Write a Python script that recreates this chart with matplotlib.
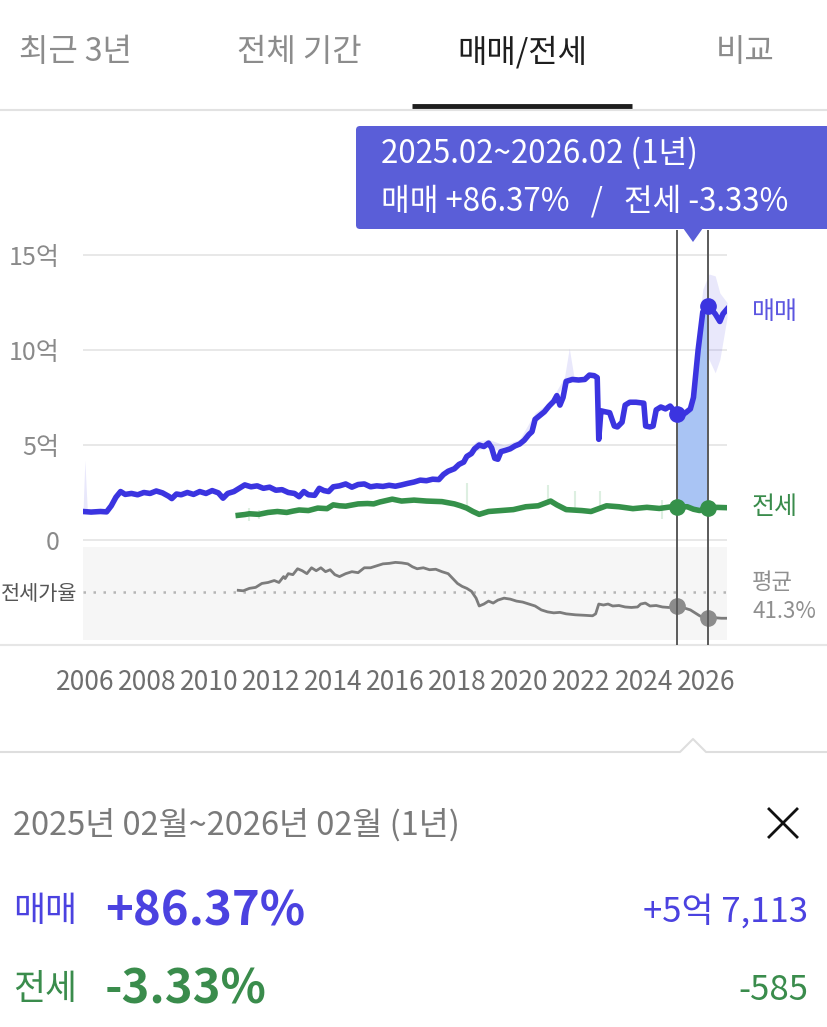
import numpy as np
import matplotlib.pyplot as plt
from matplotlib.patches import FancyBboxPatch, Polygon

plt.rcParams['font.family'] = ['Noto Sans CJK KR', 'DejaVu Sans']

# 매매 (억)
sale_x = [2005.94, 2006.2, 2006.5, 2006.7, 2006.85, 2007.0, 2007.15, 2007.3, 2007.5, 2007.7,
          2007.9, 2008.1, 2008.3, 2008.5, 2008.7, 2008.8, 2008.95, 2009.1, 2009.3, 2009.5,
          2009.7, 2009.9, 2010.1, 2010.3, 2010.45, 2010.6, 2010.8, 2011.0, 2011.15, 2011.35,
          2011.55, 2011.75, 2011.95, 2012.15, 2012.35, 2012.55, 2012.75, 2012.9, 2013.05, 2013.2,
          2013.4, 2013.55, 2013.7, 2013.85, 2014.0, 2014.2, 2014.4, 2014.6, 2014.8, 2015.0,
          2015.2, 2015.4, 2015.6, 2015.8, 2016.0, 2016.2, 2016.4, 2016.6, 2016.8, 2017.0,
          2017.2, 2017.4, 2017.55, 2017.7, 2017.9, 2018.05, 2018.2, 2018.3, 2018.45, 2018.55,
          2018.7, 2018.85, 2019.0, 2019.1, 2019.2, 2019.3, 2019.4, 2019.55, 2019.7, 2019.85,
          2020.0, 2020.15, 2020.3, 2020.4, 2020.5, 2020.65, 2020.8, 2020.95, 2021.1, 2021.2,
          2021.3, 2021.4, 2021.5, 2021.7, 2021.9, 2022.1, 2022.25, 2022.4, 2022.5, 2022.55,
          2022.62, 2022.75, 2022.9, 2023.05, 2023.15, 2023.3, 2023.4, 2023.55, 2023.75, 2024.0,
          2024.06, 2024.2, 2024.3, 2024.4, 2024.55, 2024.7, 2024.85, 2025.0, 2025.08, 2025.2,
          2025.35, 2025.5, 2025.6, 2025.75, 2025.9, 2026.08, 2026.2, 2026.3, 2026.45, 2026.55,
          2026.68]
sale_v = [1.50, 1.47, 1.50, 1.48, 1.80, 2.25, 2.55, 2.40, 2.45, 2.38,
          2.50, 2.45, 2.58, 2.48, 2.30, 2.18, 2.42, 2.38, 2.50, 2.40,
          2.55, 2.45, 2.60, 2.48, 2.20, 2.45, 2.55, 2.75, 2.90, 2.80,
          2.85, 2.72, 2.78, 2.62, 2.65, 2.50, 2.45, 2.28, 2.55, 2.38,
          2.35, 2.72, 2.60, 2.55, 2.80, 2.85, 2.95, 2.78, 2.92, 2.95,
          2.80, 2.85, 2.82, 2.88, 2.83, 2.90, 2.98, 3.05, 3.15, 3.12,
          3.20, 3.18, 3.45, 3.62, 3.75, 3.98, 4.10, 4.40, 4.55, 4.80,
          5.00, 4.92, 5.10, 4.85, 4.30, 4.25, 4.65, 4.72, 4.80, 4.95,
          5.05, 5.25, 5.55, 5.70, 6.35, 6.55, 6.75, 7.05, 7.30, 7.60,
          7.10, 7.50, 8.35, 8.45, 8.42, 8.45, 8.68, 8.65, 8.55, 5.30,
          6.80, 6.75, 6.70, 6.00, 5.95, 6.20, 7.10, 7.25, 7.25, 7.20,
          6.00, 5.95, 6.00, 6.85, 7.00, 6.90, 7.05, 6.75, 6.62, 6.55,
          6.70, 6.90, 7.50, 10.0, 12.0, 12.33, 12.1, 11.9, 11.5, 11.9,
          12.15]

# 전세 (억)
rent_x = [2010.94, 2011.15, 2011.3, 2011.6, 2011.9, 2012.2, 2012.5, 2012.7, 2012.9, 2013.2,
          2013.5, 2013.8, 2014.0, 2014.2, 2014.4, 2014.8, 2015.1, 2015.3, 2015.5, 2015.9,
          2016.2, 2016.6, 2017.0, 2017.5, 2017.9, 2018.1, 2018.3, 2018.5, 2018.7, 2019.0,
          2019.4, 2019.8, 2020.2, 2020.6, 2021.0, 2021.2, 2021.5, 2022.0, 2022.3, 2022.8,
          2023.2, 2023.65, 2024.1, 2024.5, 2024.9, 2025.08, 2025.4, 2025.6, 2025.8, 2026.08,
          2026.3, 2026.68]
rent_v = [1.30, 1.34, 1.38, 1.35, 1.45, 1.50, 1.45, 1.52, 1.58, 1.55,
          1.68, 1.65, 1.85, 1.80, 1.78, 1.90, 1.92, 1.90, 2.00, 2.15,
          2.05, 2.10, 2.05, 2.02, 1.90, 1.80, 1.68, 1.50, 1.35, 1.50,
          1.55, 1.60, 1.75, 1.80, 2.05, 1.85, 1.60, 1.55, 1.50, 1.80,
          1.75, 1.65, 1.72, 1.66, 1.75, 1.757, 1.75, 1.62, 1.55, 1.698,
          1.72, 1.70]

# 전세가율 (%)
ratio_x = [2010.94, 2011.1, 2011.3, 2011.5, 2011.7, 2011.9, 2012.1, 2012.25, 2012.4, 2012.45,
           2012.55, 2012.7, 2012.85, 2013.0, 2013.15, 2013.3, 2013.45, 2013.6, 2013.75, 2013.9,
           2014.05, 2014.2, 2014.4, 2014.6, 2014.8, 2015.0, 2015.2, 2015.4, 2015.6, 2015.8,
           2016.0, 2016.2, 2016.4, 2016.55, 2016.7, 2016.9, 2017.1, 2017.3, 2017.5, 2017.7,
           2017.85, 2018.0, 2018.15, 2018.3, 2018.45, 2018.6, 2018.7, 2018.85, 2019.0, 2019.15,
           2019.3, 2019.5, 2019.7, 2019.9, 2020.1, 2020.3, 2020.5, 2020.7, 2020.9, 2021.1,
           2021.3, 2021.5, 2021.8, 2022.1, 2022.35, 2022.45, 2022.55, 2022.7, 2022.85, 2023.0,
           2023.2, 2023.4, 2023.6, 2023.8, 2023.9, 2024.05, 2024.2, 2024.4, 2024.6, 2024.8,
           2025.0, 2025.08, 2025.3, 2025.5, 2025.65, 2025.8, 2025.95, 2026.08, 2026.3, 2026.5,
           2026.68]
ratio_v = [43, 42.5, 45, 46, 50, 51, 53, 51, 57, 55,
           60, 59, 65, 63, 60, 66, 63, 66, 62, 64,
           59, 57, 60, 62, 61, 66, 66, 68, 70, 70.5,
           71.5, 71, 70, 67, 65, 66, 64, 64.5, 62, 60,
           55, 50, 47, 45, 42, 35, 27, 29, 32, 30,
           33, 35, 34, 32, 31, 29, 27, 23, 21, 20,
           20.5, 19, 18, 17.5, 17, 19, 29, 28, 29, 27,
           27.5, 26, 25.5, 26, 29, 30, 27, 27.5, 26, 25.5,
           26, 26.5, 25, 23, 20, 17, 15, 14.5, 15, 14.5,
           14.5]
ratio_avg = 41.3

# 매매 범위 (옅은 띠: 시작 스파이크, 2021 스파이크, 최근 구간)
band1_x = [2005.94, 2006.0, 2006.08]
band1_lo = [1.5, 1.5, 1.5]
band1_hi = [1.5, 4.2, 1.5]
band2_x = [2018.2, 2018.6, 2019.0, 2019.5, 2020.0, 2020.5, 2021.0, 2021.45, 2021.6, 2021.75]
band2_lo = [4.1, 4.7, 4.9, 4.6, 5.0, 6.3, 7.0, 8.3, 8.3, 8.4]
band2_hi = [4.4, 5.2, 5.3, 5.0, 5.3, 6.7, 7.3, 8.6, 10.1, 8.6]
band3_x = [2025.6, 2025.75, 2025.9, 2026.1, 2026.3, 2026.45, 2026.68]
band3_lo = [7.4, 9.0, 10.0, 9.5, 8.8, 9.5, 11.7]
band3_hi = [7.6, 11.0, 13.2, 14.0, 13.9, 13.0, 12.5]

# 전세 범위 스파이크
rspike_x = [2011.3, 2011.6, 2018.3, 2020.9, 2021.8, 2022.6, 2024.6]
rspike_lo = [1.0, 1.1, 1.7, 2.0, 1.55, 1.8, 1.1]
rspike_hi = [1.7, 1.6, 3.0, 2.9, 2.6, 2.6, 2.1]

sel_start, sel_end = 2025.08, 2026.08
year_ticks = list(range(2006, 2027, 2))
price_ticks = [0, 5, 10, 15]
price_labels = ['0', '5억', '10억', '15억']

BLUE = '#3b34e0'
GREEN = '#35914a'
GRAY = '#7c7c7c'

W, H = 827, 1027
fig = plt.figure(figsize=(W / 100, H / 100), dpi=100)

def box(x0, y0, x1, y1):
    # 픽셀 좌표 -> figure 비율
    return [x0 / W, 1 - y1 / H, (x1 - x0) / W, (y1 - y0) / H]

# 배경 (UI 요소용, 픽셀 좌표)
bg = fig.add_axes([0, 0, 1, 1])
bg.set_xlim(0, W)
bg.set_ylim(H, 0)
bg.axis('off')

tabs = ['최근 3년', '전체 기간', '매매/전세', '비교']
tab_cx = [75, 299, 522, 745]
for t, cx in zip(tabs, tab_cx):
    active = t == '매매/전세'
    bg.text(cx, 52, t, ha='center', va='center', fontsize=23,
            color='#1e1e1e' if active else '#8c8c8c', weight='medium' if active else 'normal')
bg.plot([0, W], [110, 110], color='#e2e2e2', lw=1.5)
bg.plot([412, 632], [106, 106], color='#1e1e1e', lw=3.5, solid_capstyle='butt')

# 툴팁
bg.add_patch(FancyBboxPatch((356, 126), 520, 103, boxstyle='round,pad=0,rounding_size=4',
                            fc='#5a5ed8', ec='none', zorder=5))
bg.add_patch(Polygon([(683, 228), (703, 228), (693, 242)], closed=True, fc='#5a5ed8', ec='none', zorder=5))
bg.text(381, 153, '2025.02~2026.02 (1년)', color='white', fontsize=22.5, va='center', zorder=6)
bg.text(381, 201, '매매 +86.37%   /   전세 -3.33%', color='white', fontsize=22.5, va='center', zorder=6)

bg.plot([0, W], [645, 645], color='#e6e6e6', lw=1.5)
bg.plot([0, 680, 693, 706, W], [752, 752, 739, 752, 752], color='#dedede', lw=1.5)

# 하단 요약
bg.text(13, 825, '2025년 02월~2026년 02월 (1년)', color='#7a7a7a', fontsize=23.5, va='center')
bg.plot([769, 797], [809, 837], color='#111111', lw=2)
bg.plot([769, 797], [837, 809], color='#111111', lw=2)
bg.text(13, 912, '매매', color='#4b42e0', fontsize=25, va='center')
bg.text(105, 912, '+86.37%', color='#4b42e0', fontsize=34, va='center', weight='bold')
bg.text(808, 912, '+5억 7,113', color='#4b42e0', fontsize=25, va='center', ha='right')
bg.text(13, 990, '전세', color='#3a8c4c', fontsize=25, va='center')
bg.text(105, 990, '-3.33%', color='#3a8c4c', fontsize=34, va='center', weight='bold')
bg.text(808, 990, '-585', color='#3a8c4c', fontsize=25, va='center', ha='right')

# 전세가율 패널
xlim = (2005.94, 2026.68)
axr = fig.add_axes(box(83, 547, 727, 640))
axr.set_facecolor('#f6f6f6')
axr.set_xlim(*xlim)
axr.set_ylim(-7.7, 87.2)
for s in axr.spines.values():
    s.set_visible(False)
axr.set_xticks([])
axr.set_yticks([ratio_avg])
axr.set_yticklabels(['전세가율'], fontsize=15, color='#555555')
axr.tick_params(axis='y', length=0, pad=4)
axr.axhline(ratio_avg, color='#b5b5b5', lw=1.8, ls=(0, (1, 3)), xmax=1.01, clip_on=False)
axr.plot(ratio_x, ratio_v, color=GRAY, lw=2.0, solid_joinstyle='round')
ratio_sel = [ratio_v[ratio_x.index(sel_start)], ratio_v[ratio_x.index(sel_end)]]
axr.plot([sel_start, sel_end], ratio_sel, 'o', color='#8c8c8c', ms=11, zorder=5)
axr.text(2027.49, 50.5, '평균', color='#8f8f8f', fontsize=16, va='center', clip_on=False)
axr.text(2027.49, 20.9, '41.3%', color='#8f8f8f', fontsize=16, va='center', clip_on=False)

# 가격 차트
ax = fig.add_axes(box(83, 230, 727, 645))
ax.patch.set_alpha(0)
ax.set_xlim(*xlim)
ax.set_ylim((540 - 645) / 19, (540 - 230) / 19)
for s in ax.spines.values():
    s.set_visible(False)
for v in price_ticks:
    ax.axhline(v, color='#e6e6e6', lw=1.3, zorder=0)
ax.set_yticks(price_ticks)
ax.set_yticklabels(price_labels, fontsize=18, color='#8a8a8a')
ax.tick_params(axis='y', length=0, pad=17)
ax.set_xticks(year_ticks)
ax.set_xticklabels([str(y) for y in year_ticks], fontsize=19, color='#6e6e6e')
ax.tick_params(axis='x', length=0, pad=17)

for bx, blo, bhi in [(band1_x, band1_lo, band1_hi), (band2_x, band2_lo, band2_hi),
                     (band3_x, band3_lo, band3_hi)]:
    ax.fill_between(bx, blo, bhi, color='#8580ee', alpha=0.18, lw=0)
ax.vlines(rspike_x, rspike_lo, rspike_hi, color='#9fd3aa', lw=1.5, alpha=0.35, zorder=1)

# 선택 구간 채움
sx = np.array(sale_x)
sv = np.array(sale_v)
rx = np.array(rent_x)
rv = np.array(rent_v)
ms = (sx >= sel_start) & (sx <= sel_end)
mr = (rx >= sel_start) & (rx <= sel_end)
poly_x = np.concatenate([sx[ms], rx[mr][::-1]])
poly_y = np.concatenate([sv[ms], rv[mr][::-1]])
ax.fill(poly_x, poly_y, color='#a9c4f4', lw=0, zorder=1)

ax.plot(rent_x, rent_v, color=GREEN, lw=4, zorder=3, solid_joinstyle='round')
ax.plot(sale_x, sale_v, color=BLUE, lw=4, zorder=4, solid_joinstyle='round')

for xv in (sel_start, sel_end):
    ax.axvline(xv, color='#5a5a5a', lw=1.4, zorder=6)
ax.plot([sel_start, sel_end], [sv[sx == sel_start][0], sv[sx == sel_end][0]], 'o', color=BLUE, ms=11, zorder=7)
ax.plot([sel_start, sel_end], [rv[rx == sel_start][0], rv[rx == sel_end][0]], 'o', color=GREEN, ms=11, zorder=7)

ax.text(2027.49, 12.0, '매매', color='#5b55e0', fontsize=18, va='center', clip_on=False)
ax.text(2027.49, 1.74, '전세', color='#3a8c4c', fontsize=18, va='center', clip_on=False)

fig.savefig('out.png', dpi=100)
